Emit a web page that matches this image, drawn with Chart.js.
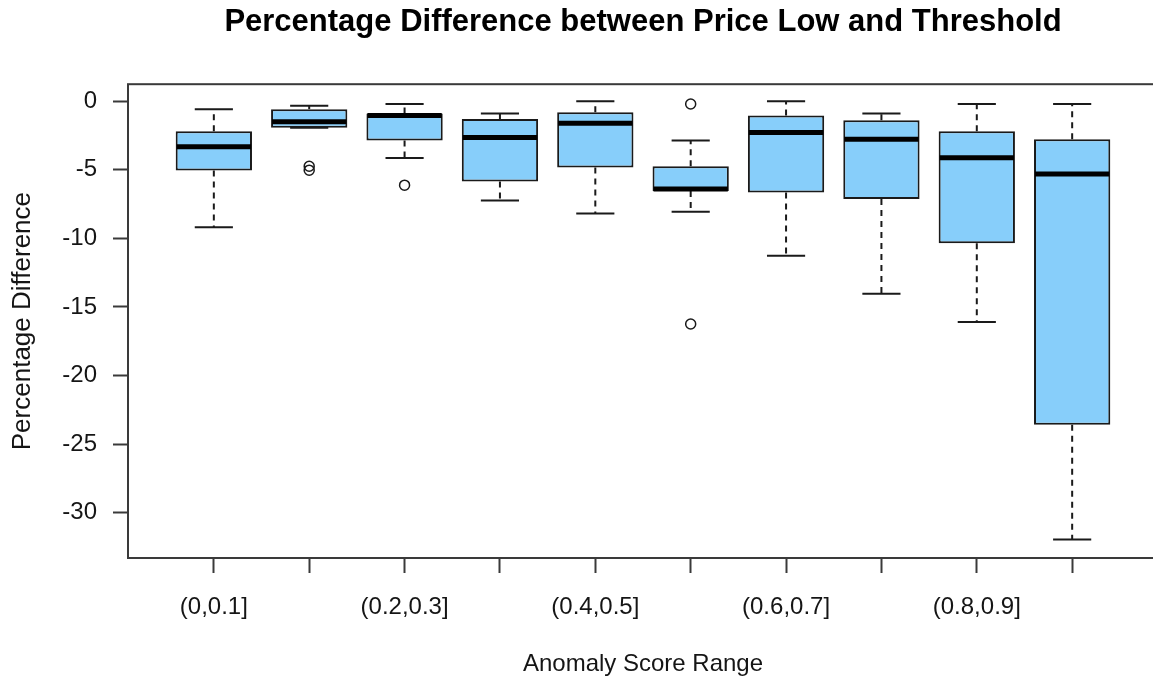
<!DOCTYPE html>
<html>
<head>
<meta charset="utf-8">
<script src="https://cdn.jsdelivr.net/npm/chart.js@4/dist/chart.umd.min.js"></script>
<style>
  html, body { margin: 0; padding: 0; background: #fff; overflow: hidden; }
  #wrap { width: 1170px; height: 681px; }
</style>
</head>
<body>
<div id="wrap"><canvas id="boxChart" width="1170" height="681"></canvas></div>
<script>
        const categories = ['(0,0.1]', '(0.1,0.2]', '(0.2,0.3]', '(0.3,0.4]', '(0.4,0.5]',
            '(0.5,0.6]', '(0.6,0.7]', '(0.7,0.8]', '(0.8,0.9]', '(0.9,1]'];
        // R leaves every other axis label out, only these are printed
        const shownLabels = ['(0,0.1]', '(0.2,0.3]', '(0.4,0.5]', '(0.6,0.7]', '(0.8,0.9]'];
        const yTicks = [0, -5, -10, -15, -20, -25, -30];

        const whiskerHigh = [-0.58, -0.34, -0.2, -0.9, 0.0, -2.87, 0.0, -0.9, -0.2, -0.2];
        const q3 = [-2.19, -0.58, -0.9, -1.29, -0.8, -4.74, -1.05, -1.38, -2.19, -2.77];
        const medians = [-3.33, -1.5, -1.05, -2.65, -1.6, -6.4, -2.28, -2.77, -4.13, -5.3];
        const q1 = [-5.05, -1.94, -2.87, -5.85, -4.83, -6.55, -6.66, -7.14, -10.35, -23.6];
        const whiskerLow = [-9.2, -1.94, -4.15, -7.24, -8.19, -8.07, -11.27, -14.04, -16.1, -31.97];
        const outlierGroup = [2, 2, 3, 6, 6];
        const outlierValues = [-4.74, -5.03, -6.12, -0.2, -16.25];

        const colors = {
            box: '#87CEFA',
            line: '#1a1a1a',
            frame: '#3a3a3a',
            text: '#151515'
        };
        const fontFamily = '"Liberation Sans", Arial, sans-serif';

        const boxplotPlugin = {
            id: 'boxplotLines',
            afterDatasetsDraw(chart) {
                const ctx = chart.ctx;
                const yScale = chart.scales.y;
                const bars = chart.getDatasetMeta(0).data;
                ctx.save();
                ctx.strokeStyle = colors.line;
                bars.forEach((bar, i) => {
                    const { x, width } = bar.getProps(['x', 'width'], true);
                    const yHi = yScale.getPixelForValue(whiskerHigh[i]);
                    const yLo = yScale.getPixelForValue(whiskerLow[i]);
                    const yQ3 = yScale.getPixelForValue(q3[i]);
                    const yQ1 = yScale.getPixelForValue(q1[i]);
                    const yMed = yScale.getPixelForValue(medians[i]);
                    const staple = width / 4;

                    // dashed whiskers
                    ctx.lineWidth = 2;
                    ctx.setLineDash([6, 5]);
                    ctx.beginPath();
                    if (yHi < yQ3) { ctx.moveTo(x, yQ3); ctx.lineTo(x, yHi); }
                    if (yLo > yQ1) { ctx.moveTo(x, yQ1); ctx.lineTo(x, yLo); }
                    ctx.stroke();

                    // staples
                    ctx.setLineDash([]);
                    ctx.beginPath();
                    ctx.moveTo(x - staple, yHi); ctx.lineTo(x + staple, yHi);
                    ctx.moveTo(x - staple, yLo); ctx.lineTo(x + staple, yLo);
                    ctx.stroke();

                    // median
                    ctx.lineWidth = 5;
                    ctx.strokeStyle = '#000';
                    ctx.beginPath();
                    ctx.moveTo(x - width / 2 + 1, yMed);
                    ctx.lineTo(x + width / 2 - 1, yMed);
                    ctx.stroke();
                    ctx.strokeStyle = colors.line;
                });

                // plot frame
                const area = chart.chartArea;
                ctx.lineWidth = 2;
                ctx.strokeStyle = colors.frame;
                ctx.strokeRect(area.left, area.top, area.right - area.left, area.bottom - area.top);
                ctx.restore();
            }
        };

        new Chart(document.getElementById('boxChart').getContext('2d'), {
            type: 'bar',
            data: {
                datasets: [{
                    label: 'box',
                    data: categories.map((c, i) => ({ x: i + 1, y: [q1[i], q3[i]] })),
                    backgroundColor: colors.box,
                    borderColor: colors.line,
                    borderWidth: 2,
                    borderSkipped: false,
                    categoryPercentage: 1,
                    barPercentage: 0.8
                }, {
                    type: 'scatter',
                    label: 'outliers',
                    data: outlierGroup.map((g, i) => ({ x: g, y: outlierValues[i] })),
                    pointRadius: 5,
                    pointBorderWidth: 1.5,
                    pointBorderColor: colors.line,
                    pointBackgroundColor: 'rgba(0,0,0,0)'
                }]
            },
            options: {
                responsive: false,
                animation: false,
                layout: { padding: { left: 0, right: 12, top: 0, bottom: 0 } },
                plugins: {
                    legend: { display: false },
                    tooltip: { enabled: false },
                    title: {
                        display: true,
                        fullSize: false,
                        text: 'Percentage Difference between Price Low and Threshold',
                        color: '#000',
                        font: { family: fontFamily, size: 31, weight: 'bold' },
                        padding: { top: 4, bottom: 43 }
                    }
                },
                scales: {
                    x: {
                        type: 'linear',
                        min: 0.1,
                        max: 10.9,
                        offset: false,
                        afterBuildTicks: (scale) => {
                            scale.ticks = categories.map((c, i) => ({ value: i + 1 }));
                        },
                        afterFit: (scale) => { scale.height = 123; },
                        grid: {
                            offset: false,
                            drawOnChartArea: false,
                            drawTicks: true,
                            tickLength: 15,
                            tickWidth: 2,
                            color: colors.frame
                        },
                        border: { display: false },
                        ticks: {
                            autoSkip: false,
                            maxRotation: 0,
                            padding: 20,
                            color: colors.text,
                            font: { family: fontFamily, size: 24 },
                            callback: (value) => {
                                const label = categories[Math.round(value) - 1];
                                return shownLabels.includes(label) ? label : '';
                            }
                        },
                        title: {
                            display: true,
                            text: 'Anomaly Score Range',
                            color: colors.text,
                            font: { family: fontFamily, size: 24 },
                            padding: { top: 0, bottom: 2 }
                        }
                    },
                    y: {
                        min: -33.31,
                        max: 1.24,
                        afterBuildTicks: (scale) => {
                            scale.ticks = yTicks.map(v => ({ value: v }));
                        },
                        afterFit: (scale) => { scale.width = 128; },
                        grid: {
                            drawOnChartArea: false,
                            drawTicks: true,
                            tickLength: 15,
                            tickWidth: 2,
                            color: colors.frame
                        },
                        border: { display: false },
                        ticks: {
                            padding: 16,
                            color: colors.text,
                            font: { family: fontFamily, size: 24 }
                        },
                        title: {
                            display: true,
                            text: 'Percentage Difference',
                            color: colors.text,
                            font: { family: fontFamily, size: 26 },
                            padding: { top: 7, bottom: 0 }
                        }
                    }
                }
            },
            plugins: [boxplotPlugin]
        });
</script>
</body>
</html>
